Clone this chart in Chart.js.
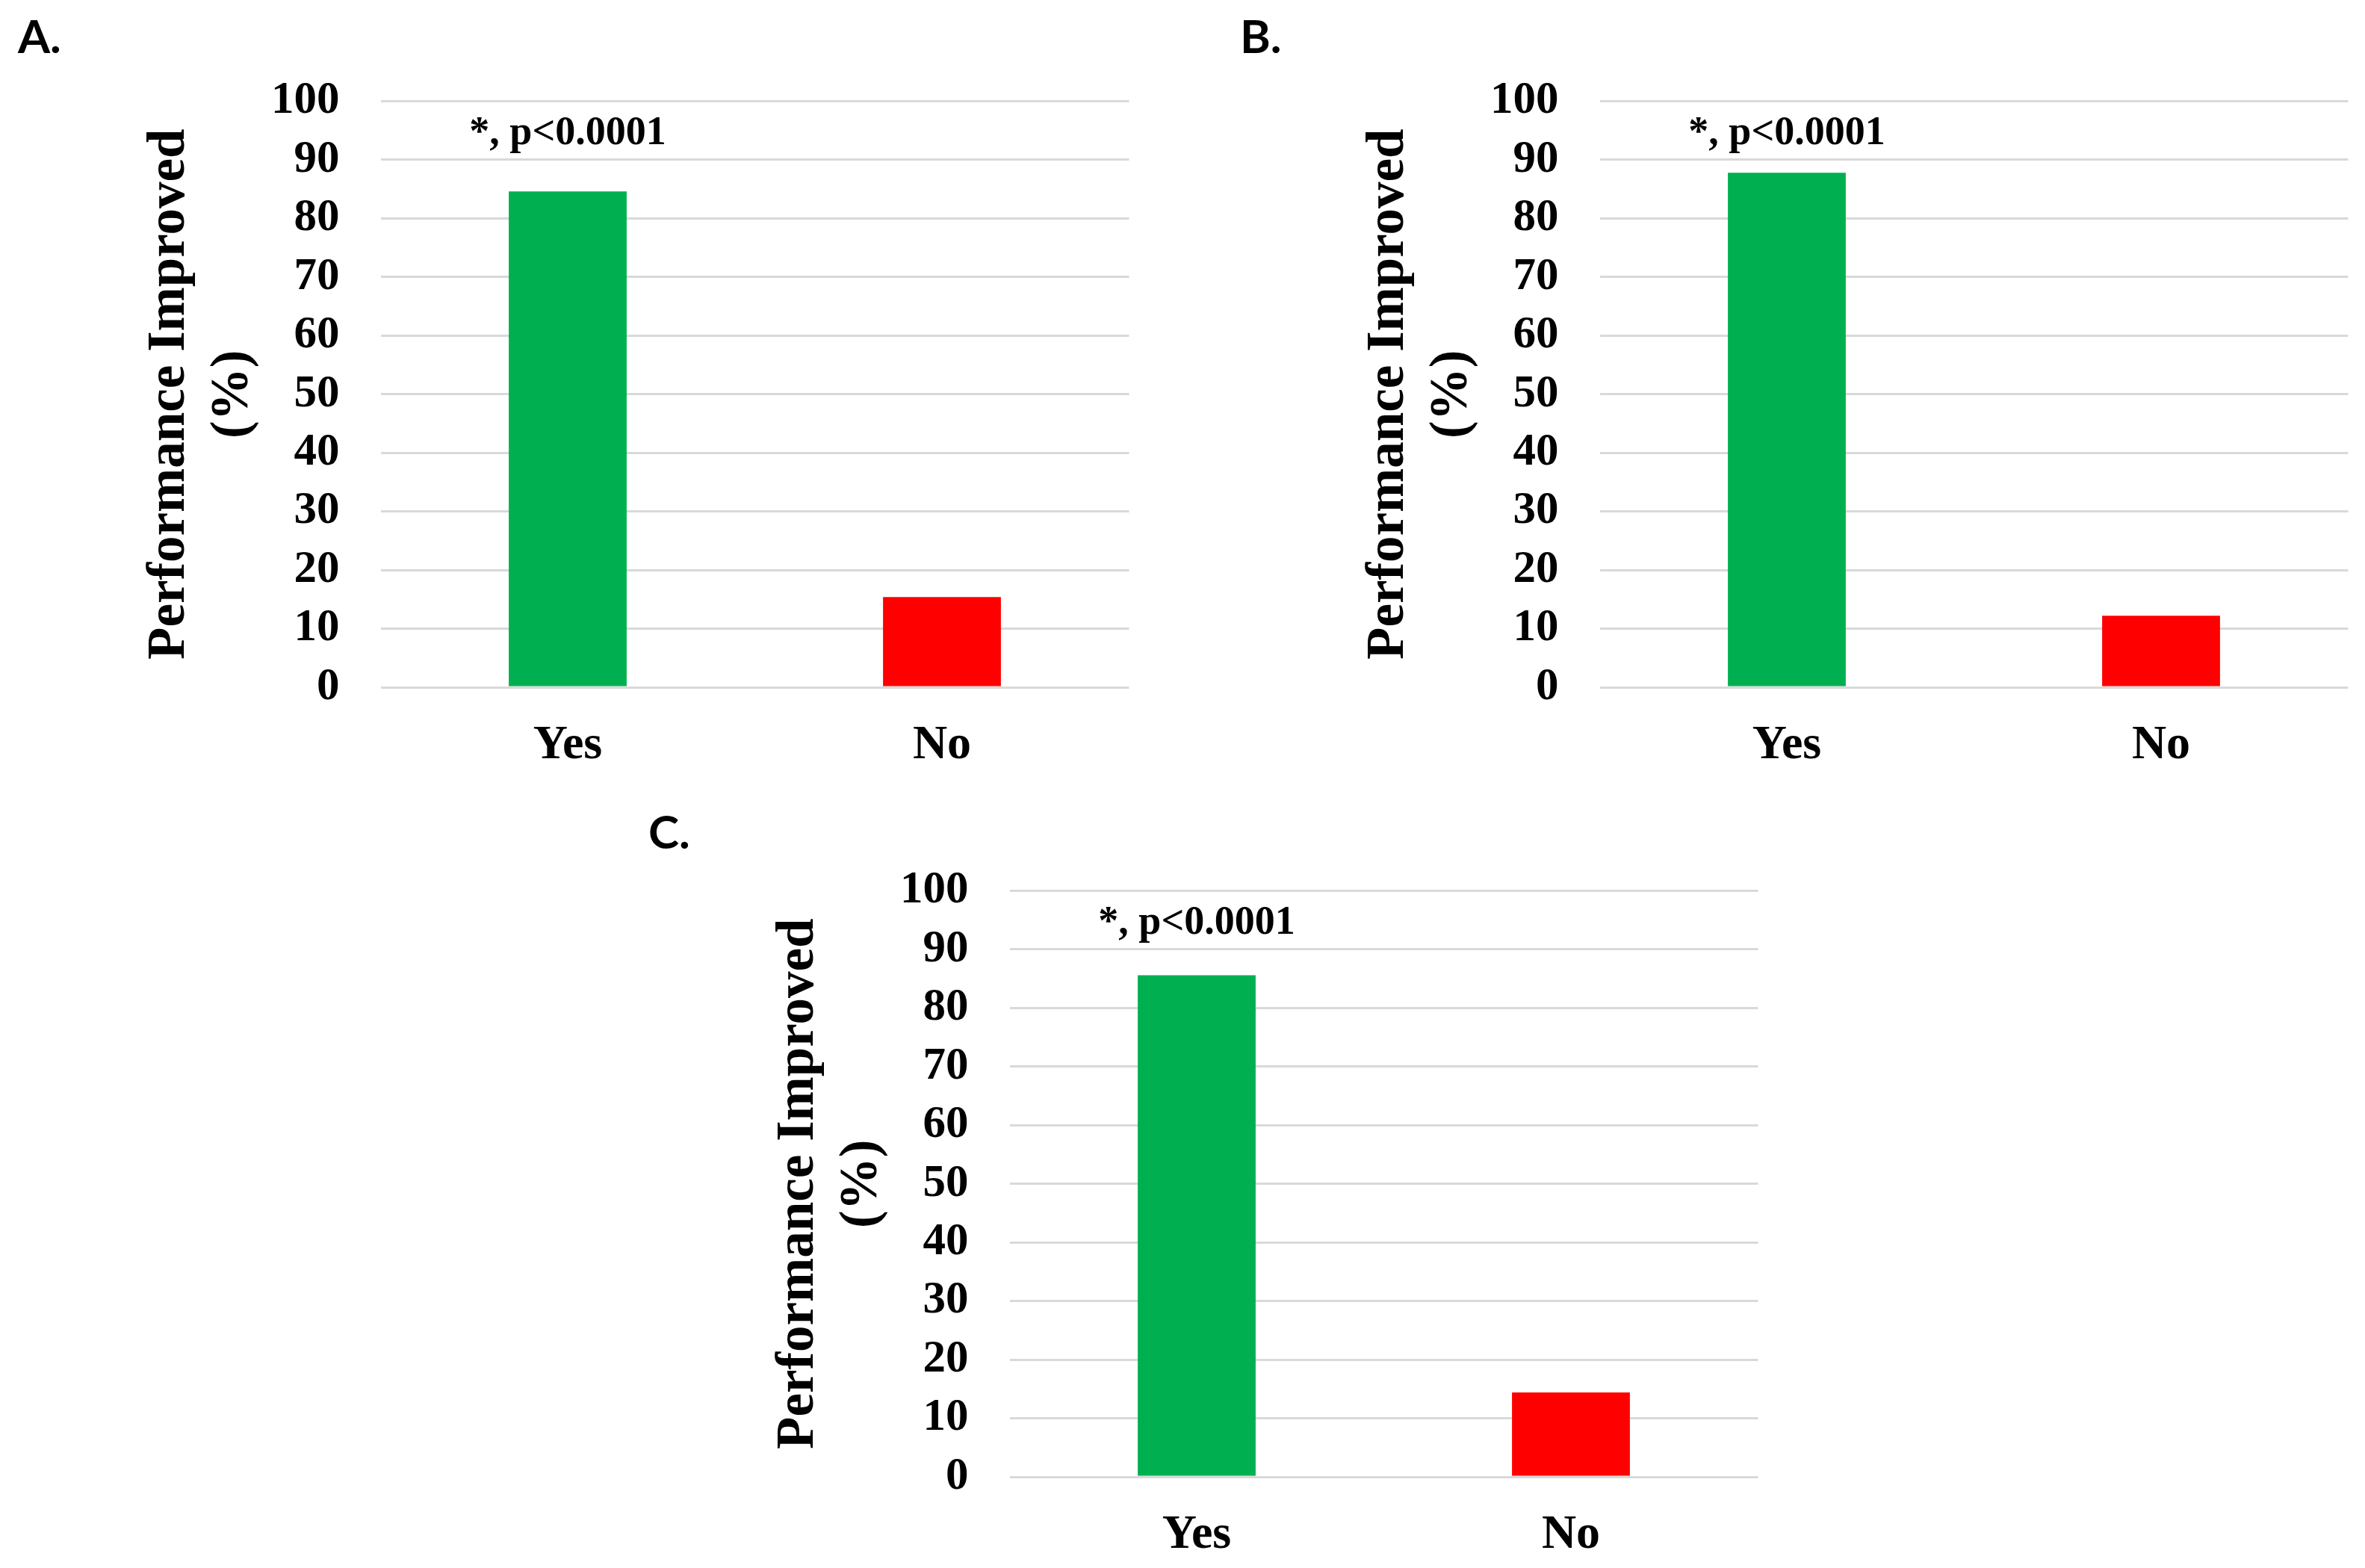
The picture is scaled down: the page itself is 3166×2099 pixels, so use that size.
<!DOCTYPE html>
<html>
<head>
<meta charset="utf-8">
<script src="https://cdn.jsdelivr.net/npm/chart.js@4/dist/chart.umd.min.js"></script>
<style>
  html, body { margin: 0; padding: 0; background: #ffffff; }
  body { width: 3166px; height: 2099px; position: relative; overflow: hidden; }
  .panel { position: absolute; }
  .plabel { position: absolute; font-family: Lato, "Liberation Sans", sans-serif; font-weight: bold; font-size: 62px; line-height: 1; color: #000; }
</style>
</head>
<body>
<div class="plabel" id="labA" style="left:24px; top:16px;">A.</div>
<div class="plabel" id="labB" style="left:1660px; top:16px;">B.</div>
<div class="plabel" id="labC" style="left:868px; top:1081px;">C.</div>
<div class="panel" style="left:0px; top:2px;"><canvas id="cA" width="1534" height="1040"></canvas></div>
<div class="panel" style="left:1632px; top:2px;"><canvas id="cB" width="1534" height="1040"></canvas></div>
<div class="panel" style="left:842px; top:1059px;"><canvas id="cC" width="1534" height="1040"></canvas></div>
<script>
// ---- data ----
const categories = ['Yes', 'No'];
const valuesA = [84.6, 15.4];
const valuesB = [87.8, 12.2];
const valuesC = [85.6, 14.4];
const barColors = ['#00B050', '#FF0000'];
const yMin = 0;
const yMax = 100;
const yStep = 10;
const yTitle = ['Performance Improved', '(%)'];
const annotationText = '*, p<0.0001';
const annotationY = 94.5;

const serif = '"Liberation Serif", "Times New Roman", serif';

const annotationPlugin = {
  id: 'sigNote',
  afterDatasetsDraw(chart) {
    const meta = chart.getDatasetMeta(0);
    const bar = meta.data[0];
    const y = chart.scales.y.getPixelForValue(annotationY);
    const ctx = chart.ctx;
    ctx.save();
    ctx.font = 'bold 54px ' + serif;
    ctx.fillStyle = '#000';
    ctx.textAlign = 'center';
    ctx.textBaseline = 'middle';
    ctx.fillText(annotationText, bar.x, y);
    ctx.restore();
  }
};

function makeChart(id, values) {
  return new Chart(document.getElementById(id), {
    type: 'bar',
    data: {
      labels: categories,
      datasets: [{
        data: values,
        backgroundColor: barColors,
        borderWidth: 0,
        categoryPercentage: 1.0,
        barPercentage: 0.315
      }]
    },
    options: {
      responsive: false,
      devicePixelRatio: 1,
      animation: false,
      events: [],
      layout: { padding: { left: 0, top: 133.5, right: 22.5, bottom: 0 } },
      plugins: { legend: { display: false }, tooltip: { enabled: false } },
      scales: {
        x: {
          grid: { display: false },
          border: { display: false },
          ticks: { color: '#000', padding: 32, font: { family: serif, weight: 'bold', size: 64 } },
          afterFit(scale) { scale.height = 122; }
        },
        y: {
          min: yMin, max: yMax,
          border: { display: false },
          grid: { color: '#d9d9d9', lineWidth: 3, drawTicks: false },
          ticks: { stepSize: yStep, color: '#000', padding: 55, font: { family: serif, weight: 'bold', size: 61 } },
          title: {
            display: true,
            text: yTitle,
            color: '#000',
            padding: { top: 185, bottom: 0 },
            font: { family: serif, weight: 'bold', size: 71, lineHeight: 1.2 }
          },
          afterFit(scale) { scale.width = 509.5; }
        }
      }
    },
    plugins: [annotationPlugin]
  });
}

makeChart('cA', valuesA);
makeChart('cB', valuesB);
makeChart('cC', valuesC);
</script>
</body>
</html>
